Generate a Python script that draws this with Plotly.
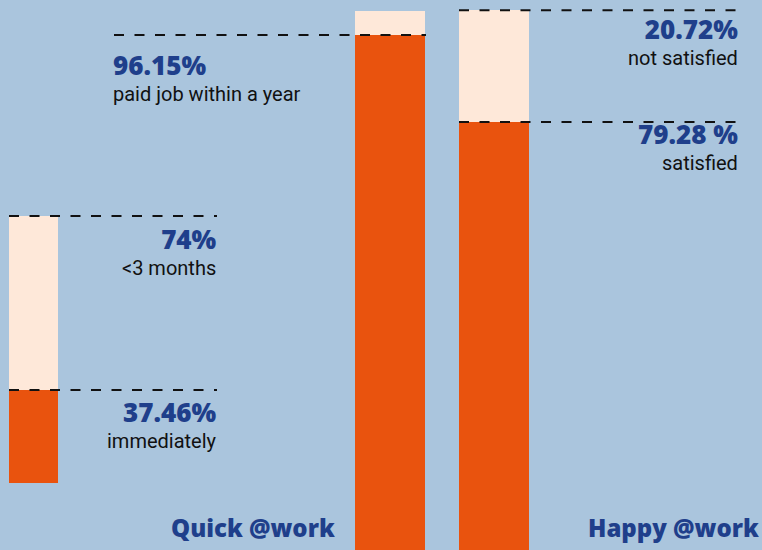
import plotly.graph_objects as go

# ---- data ----
quick_labels = ["immediately", "<3 months"]
quick_values = [37.46, 74]
job_labels = ["paid job within a year"]
job_values = [96.15, 100]
happy_labels = ["satisfied", "not satisfied"]
happy_values = [79.28, 20.72]
group_titles = ["Quick @work", "Happy @work"]

# ---- style ----
BG = "#aac5dd"
ORANGE = "#e9530e"
CREAM = "#fee8d9"
NAVY = "#1f3f8b"
W, H = 762, 550
LBL_FONT = dict(family="Roboto", size=20, color="#111111")
NUM_STYLE = f"font-family:Open Sans;font-size:26px;font-weight:800;color:{NAVY}"
TITLE_FONT = dict(family="Open Sans", size=24, color=NAVY, weight=800)


def px(x):
    return x / W


fig = go.Figure()

fig.add_bar(x=["q"], y=[quick_values[0]], marker_color=ORANGE, xaxis="x", yaxis="y",
            name=quick_labels[0])
fig.add_bar(x=["q"], y=[quick_values[1] - quick_values[0]], marker_color=CREAM,
            xaxis="x", yaxis="y", name=quick_labels[1])
fig.add_bar(x=["j"], y=[job_values[0]], marker_color=ORANGE, xaxis="x2", yaxis="y2",
            name=job_labels[0])
fig.add_bar(x=["j"], y=[job_values[1] - job_values[0]], marker_color=CREAM,
            xaxis="x2", yaxis="y2", name="rest")
fig.add_bar(x=["h"], y=[happy_values[0]], marker_color=ORANGE, xaxis="x3", yaxis="y3",
            name=happy_labels[0])
fig.add_bar(x=["h"], y=[happy_values[1]], marker_color=CREAM, xaxis="x3", yaxis="y3",
            name=happy_labels[1])

for t in fig.data:
    t.marker.line.width = 0
    t.hoverinfo = "skip"

ax = dict(visible=False, showgrid=False, zeroline=False, fixedrange=True)
fig.update_layout(
    width=W, height=H, margin=dict(l=0, r=0, t=0, b=0),
    paper_bgcolor=BG, plot_bgcolor="rgba(0,0,0,0)",
    barmode="stack", bargap=0, showlegend=False,
    xaxis=dict(ax, domain=[px(9), px(58)], anchor="y"),
    yaxis=dict(ax, domain=[1 - 483 / H, 1], range=[17.93, 119.36], anchor="x"),
    xaxis2=dict(ax, domain=[px(355), px(425)], anchor="y2"),
    yaxis2=dict(ax, domain=[0, 1], range=[13.54, 101.76], anchor="x2"),
    xaxis3=dict(ax, domain=[px(459), px(529)], anchor="y3"),
    yaxis3=dict(ax, domain=[0, 1], range=[0, 101.9], anchor="x3"),
)

dash = dict(color="#111111", width=2, dash="10px,10.5px")


def hline(yref, yval, x0, x1):
    fig.add_shape(type="line", xref="paper", yref=yref, x0=px(x0), x1=px(x1),
                  y0=yval, y1=yval, line=dash, layer="above")


hline("y", quick_values[1], 9, 217)
hline("y", quick_values[0], 9, 217)
hline("y2", job_values[0], 114, 426)
hline("y3", happy_values[0] + happy_values[1], 459, 738)
hline("y3", happy_values[0], 459, 738)


def label(yref, yval, xpx, anchor, number, text, shift):
    fig.add_annotation(xref="paper", yref=yref, x=px(xpx), y=yval, xanchor=anchor,
                       yanchor="middle", align=anchor,
                       text=f"<span style='{NUM_STYLE}'>{number}</span><br>{text}",
                       font=LBL_FONT, showarrow=False, yshift=shift, borderpad=0)


label("y", quick_values[1], 218, "right", f"{quick_values[1]:g}%",
      quick_labels[1].replace("<", "&lt;"), -34.5)
label("y", quick_values[0], 218, "right", f"{quick_values[0]:.2f}%", quick_labels[0], -33)
label("y2", job_values[0], 112, "left", f"{job_values[0]:.2f}%", job_labels[0], -41.5)
label("y3", happy_values[0] + happy_values[1], 739, "right", f"{happy_values[1]:.2f}%",
      happy_labels[1], -30)
label("y3", happy_values[0], 739, "right", f"{happy_values[0]:.2f} %", happy_labels[0], -23.5)

fig.add_annotation(xref="paper", yref="paper", x=px(336), y=1 - 527 / H, xanchor="right",
                   yanchor="middle", text=group_titles[0], font=TITLE_FONT, showarrow=False,
                   borderpad=0)
fig.add_annotation(xref="paper", yref="paper", x=px(760), y=1 - 527 / H, xanchor="right",
                   yanchor="middle", text=group_titles[1], font=TITLE_FONT, showarrow=False,
                   borderpad=0)

fig.write_html("out.html", config={"displayModeBar": False},
               post_script="document.body.style.margin='0';document.body.style.overflow='hidden';")
